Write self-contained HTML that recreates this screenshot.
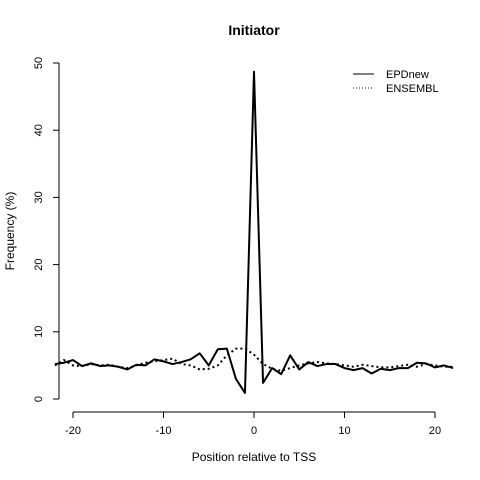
<!DOCTYPE html>
<html><head><meta charset="utf-8"><style>body{margin:0;background:#fff}svg{display:block;font-family:"Liberation Sans",sans-serif}</style></head>
<body>
<svg width="480" height="480" viewBox="0 0 480 480">
<script>
const positions=[-22,-21,-20,-19,-18,-17,-16,-15,-14,-13,-12,-11,-10,-9,-8,-7,-6,-5,-4,-3,-2,-1,0,1,2,3,4,5,6,7,8,9,10,11,12,13,14,15,16,17,18,19,20,21,22];
const epdnew=[5.2,5.4,5.8,4.9,5.3,4.9,5.0,4.8,4.4,5.1,5.0,5.9,5.6,5.2,5.5,5.9,6.8,5.0,7.4,7.5,3.0,0.9,48.7,2.4,4.6,3.7,6.5,4.4,5.5,4.9,5.2,5.2,4.6,4.3,4.6,3.8,4.5,4.3,4.6,4.6,5.4,5.3,4.7,5.0,4.6];
const ensembl=[5.0,5.8,5.0,4.9,5.2,5.0,5.1,4.8,4.6,5.0,5.4,5.6,5.8,6.0,5.2,5.0,4.4,4.5,5.0,6.5,7.5,7.5,6.6,5.2,4.5,4.2,4.6,5.0,5.3,5.5,5.3,5.2,5.0,4.8,5.1,4.9,4.7,4.7,4.9,5.1,4.8,5.2,5.0,4.8,4.8];
const xTicks=[-20,-10,0,10,20];
const yTicks=[0,10,20,30,40,50];
</script>
<text x="254" y="35" text-anchor="middle" font-size="14" font-weight="bold">Initiator</text>
<g id="axes"></g>
<g id="series"></g>
<text x="254" y="461" text-anchor="middle" font-size="12">Position relative to TSS</text>
<text transform="translate(14,231) rotate(-90)" text-anchor="middle" font-size="12">Frequency (%)</text>
<g>
<line x1="353" y1="74" x2="374" y2="74" stroke="#000" stroke-width="1"/>
<text x="386" y="78" font-size="11">EPDnew</text>
<line x1="353" y1="88" x2="374" y2="88" stroke="#000" stroke-width="1" stroke-dasharray="1,2"/>
<text x="386" y="92" font-size="11">ENSEMBL</text>
</g>
<script>
const NS="http://www.w3.org/2000/svg";
const xs=v=>254+v*9.05, ys=v=>399-v*6.72;
const ax=document.getElementById('axes'), se=document.getElementById('series');
function mk(tag,at,p){const e=document.createElementNS(NS,tag);for(const k in at)e.setAttribute(k,at[k]);p.appendChild(e);return e;}
let a=mk('line',{x1:xs(-20),x2:xs(20),y1:412,y2:412,stroke:'#000'},ax);


xTicks.forEach(t=>{mk('line',{x1:xs(t),x2:xs(t),y1:412,y2:418,stroke:'#000'},ax);
const tx=mk('text',{x:xs(t),y:434,'text-anchor':'middle','font-size':11},ax);tx.textContent=t;

});
let b=mk('line',{x1:59,x2:59,y1:ys(0),y2:ys(50),stroke:'#000'},ax);


yTicks.forEach(t=>{mk('line',{x1:53,x2:59,y1:ys(t),y2:ys(t),stroke:'#000'},ax);
const tx=mk('text',{transform:`translate(42,${ys(t)}) rotate(-90)`,'text-anchor':'middle','font-size':11},ax);tx.textContent=t;

});
const pts=arr=>arr.map((v,i)=>xs(positions[i])+','+ys(v)).join(' ');
let l1=mk('polyline',{points:pts(ensembl),fill:'none',stroke:'#000','stroke-width':2,'stroke-dasharray':'2,3'},se);


let l2=mk('polyline',{points:pts(epdnew),fill:'none',stroke:'#000','stroke-width':2,'stroke-linejoin':'round'},se);


</script>
</svg>
</body></html>
